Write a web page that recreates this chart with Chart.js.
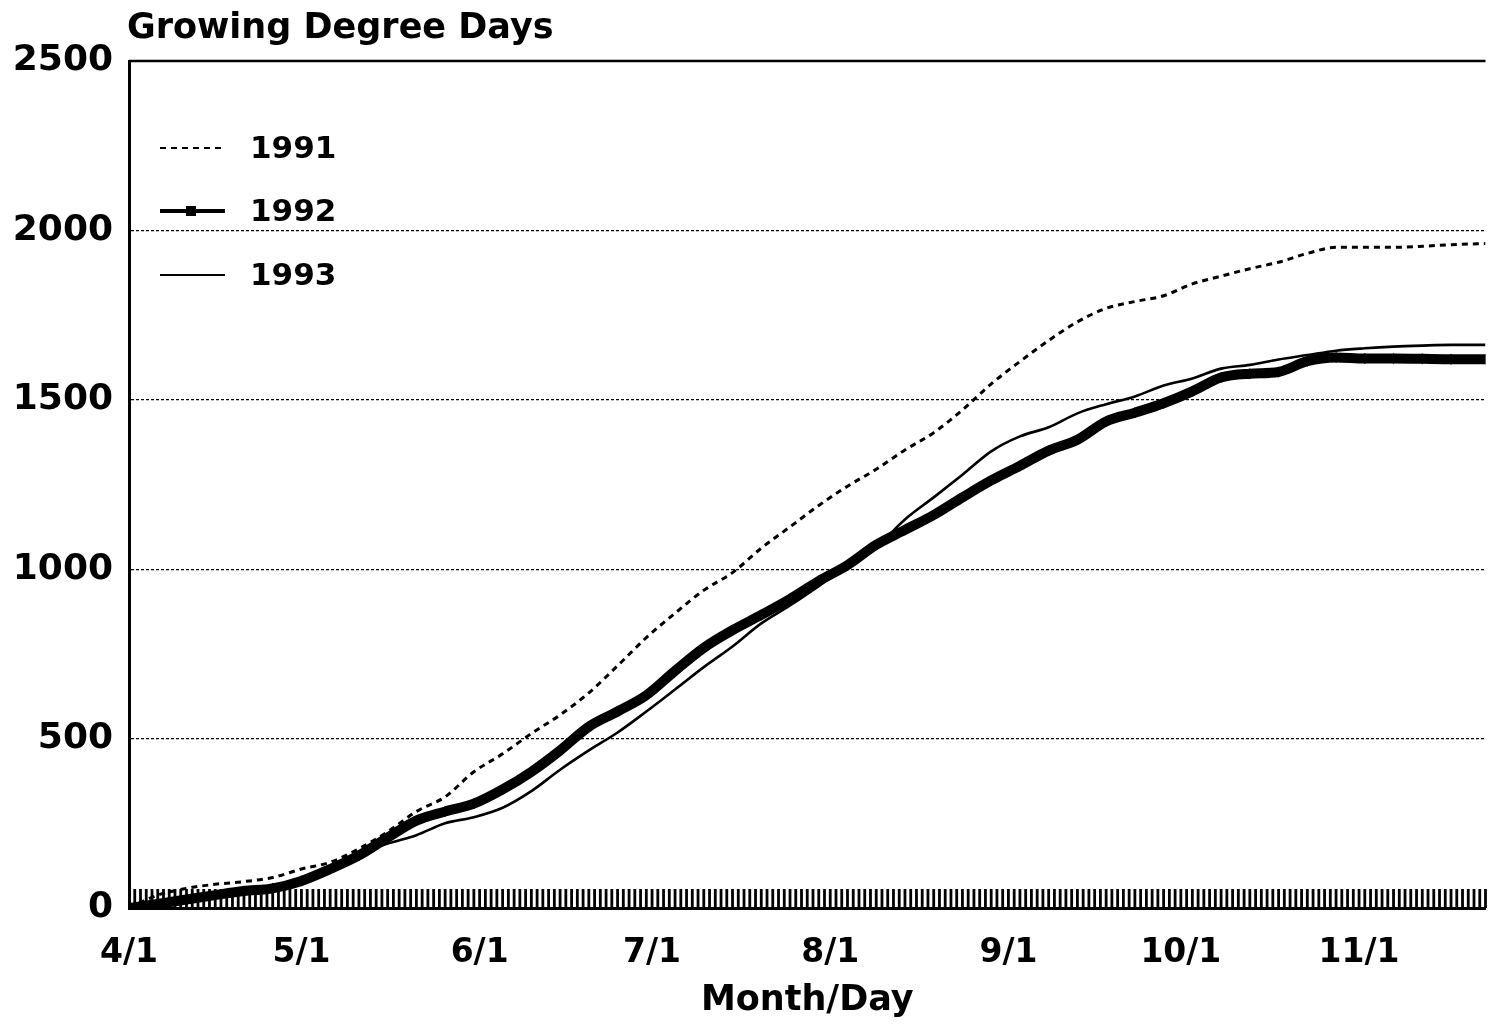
<!DOCTYPE html>
<html>
<head>
<meta charset="utf-8">
<script src="https://cdn.jsdelivr.net/npm/chart.js@4.4.1/dist/chart.umd.min.js"></script>
<style>
  html, body { margin: 0; padding: 0; background: #fff; overflow: hidden; }
  #wrap { position: relative; width: 1491px; height: 1024px; }
</style>
</head>
<body>
<div id="wrap"><canvas id="c"></canvas></div>
<script>
// ---- data ----
const days = [0,5,10,15,20,25,30,35,40,45,50,55,60,65,70,75,80,85,90,95,100,105,110,115,120,125,130,135,140,145,150,155,160,165,170,175,180,185,190,195,200,205,210,215,220,225,230,236];
const gdd1991 = [0,38,58,70,78,90,115,135,175,225,285,328,402,455,515,570,635,715,798,870,938,990,1062,1125,1188,1245,1295,1352,1403,1470,1547,1613,1675,1730,1770,1790,1807,1842,1865,1887,1906,1932,1950,1950,1950,1953,1958,1961];
const gdd1992 = [0,12,25,38,50,58,80,115,155,208,258,285,308,350,402,465,535,580,628,700,768,820,865,912,965,1012,1072,1116,1160,1212,1262,1305,1350,1382,1436,1462,1490,1525,1566,1577,1582,1614,1625,1622,1622,1621,1620,1620];
const gdd1993 = [0,8,18,30,45,62,80,112,158,190,215,250,268,296,345,408,465,518,580,645,711,772,840,893,950,1010,1065,1147,1212,1279,1348,1392,1419,1460,1487,1510,1542,1563,1592,1603,1619,1632,1645,1652,1657,1660,1662,1662];
const seriesLabels = ['1991','1992','1993'];
const tickDays = [0,30,61,91,122,153,183,214];
const tickLabels = ['4/1','5/1','6/1','7/1','8/1','9/1','10/1','11/1'];
const yTicks = [0,500,1000,1500,2000,2500];
const lastDay = 236;

const FONT = '"DejaVu Sans", sans-serif';
const toPts = arr => days.map((d, i) => ({ x: d, y: arr[i] }));

// decorations drawn through the chart's scales
const decor = {
  id: 'decor',
  beforeDatasetsDraw(chart) {
    const { ctx, chartArea, scales } = chart;
    // daily tick band along the x axis
    ctx.save();
    ctx.strokeStyle = '#000';
    ctx.lineWidth = 2.8;
    for (let d = 0; d <= lastDay; d++) {
      const x = scales.x.getPixelForValue(d);
      if (x < chartArea.left + 2) continue;
      ctx.beginPath();
      ctx.moveTo(x, chartArea.bottom);
      ctx.lineTo(x, chartArea.bottom - 19);
      ctx.stroke();
    }
    // top frame line at 2500
    const yTop = scales.y.getPixelForValue(2500);
    ctx.lineWidth = 2.5;
    ctx.beginPath();
    ctx.moveTo(chartArea.left, yTop);
    ctx.lineTo(chartArea.right, yTop);
    ctx.stroke();
    ctx.restore();
  },
  afterDraw(chart) {
    const { ctx, chartArea } = chart;
    ctx.save();
    // title
    ctx.fillStyle = '#000';
    ctx.font = 'bold 35px ' + FONT;
    ctx.textAlign = 'left';
    ctx.textBaseline = 'middle';
    ctx.fillText('Growing Degree Days', chartArea.left - 2, 29);
    // legend
    const rows = [150, 213, 277];
    chart.data.datasets.forEach((ds, i) => {
      const y = rows[i];
      ctx.strokeStyle = '#000';
      ctx.lineWidth = ds.legendWidth;
      ctx.setLineDash(ds.borderDash || []);
      ctx.beginPath();
      ctx.moveTo(160, y - 2);
      ctx.lineTo(225, y - 2);
      ctx.stroke();
      ctx.setLineDash([]);
      if (ds.legendMarker) {
        ctx.fillStyle = '#000';
        ctx.fillRect(186, y - 7, 10, 10);
      }
      ctx.fillStyle = '#000';
      ctx.font = 'bold 31px ' + FONT;
      ctx.textBaseline = 'middle';
      ctx.fillText(ds.label, 250, y);
    });
    ctx.restore();
  }
};

new Chart(document.getElementById('c'), {
  type: 'line',
  data: {
    datasets: [
      { label: seriesLabels[0], data: toPts(gdd1991), borderColor: '#000', borderWidth: 3,
        borderDash: [6, 5], pointRadius: 0, cubicInterpolationMode: 'monotone', legendWidth: 2 },
      { label: seriesLabels[1], data: toPts(gdd1992), borderColor: '#000', borderWidth: 10,
        pointRadius: 5.5, pointStyle: 'rectRot', pointBackgroundColor: '#000', pointBorderWidth: 0,
        cubicInterpolationMode: 'monotone', legendWidth: 4, legendMarker: true },
      { label: seriesLabels[2], data: toPts(gdd1993), borderColor: '#000', borderWidth: 2.6,
        pointRadius: 0, cubicInterpolationMode: 'monotone', legendWidth: 2 }
    ]
  },
  options: {
    responsive: true,
    maintainAspectRatio: false,
    animation: false,
    layout: { padding: { top: 61, left: 0, right: -4, bottom: 0 } },
    plugins: { legend: { display: false }, title: { display: false }, tooltip: { enabled: false } },
    scales: {
      x: {
        type: 'linear', min: 0, max: lastDay,
        afterBuildTicks: s => { s.ticks = tickDays.map(v => ({ value: v })); },
        afterFit: s => { s.height = 116; },
        ticks: {
          autoSkip: false, maxRotation: 0, padding: 26, color: '#000',
          font: { family: FONT, size: 33, weight: 'bold' },
          callback: v => tickLabels[tickDays.indexOf(v)]
        },
        grid: { display: false, drawTicks: false },
        border: { display: true, color: '#000', width: 3 },
        title: { display: true, text: 'Month/Day', color: '#000', padding: { top: 4, bottom: 2 },
          font: { family: FONT, size: 35, weight: 'bold' } }
      },
      y: {
        min: 0, max: 2500,
        afterBuildTicks: s => { s.ticks = yTicks.map(v => ({ value: v })); },
        afterFit: s => { s.width = 129; },
        ticks: { padding: 16, color: '#000', font: { family: FONT, size: 36, weight: 'bold' },
          callback: v => String(v) },
        grid: {
          drawTicks: false, lineWidth: 1.3,
          color: c => (c.tick && (c.tick.value === 0 || c.tick.value === 2500)) ? 'rgba(0,0,0,0)' : '#000'
        },
        border: { display: true, color: '#000', width: 3, dash: [3, 2] }
      }
    }
  },
  plugins: [decor]
});
</script>
</body>
</html>
